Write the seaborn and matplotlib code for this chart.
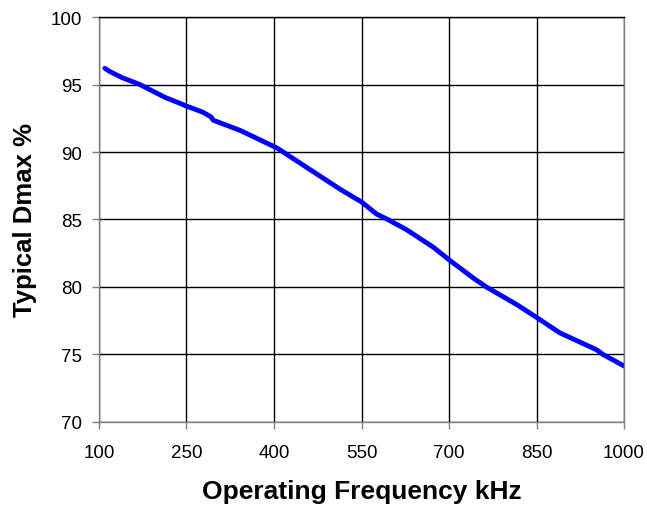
import pandas as pd
import matplotlib.pyplot as plt
import seaborn as sns

# values
freq_khz = [110, 119, 140, 170, 213, 239, 250, 278, 292, 296, 342, 405,
            467, 513, 550, 576, 595, 627, 673, 702, 742, 764, 816, 850,
            890, 953, 964, 1000]
dmax_pct = [96.2, 95.95, 95.5, 95.0, 94.05, 93.6, 93.4, 92.95, 92.6, 92.35,
            91.6, 90.3, 88.55, 87.25, 86.3, 85.4, 85.0, 84.25, 82.95, 81.95,
            80.65, 80.0, 78.7, 77.75, 76.6, 75.35, 75.0, 74.15]
x_ticks = [100, 250, 400, 550, 700, 850, 1000]
y_ticks = [70, 75, 80, 85, 90, 95, 100]

df = pd.DataFrame({'freq': freq_khz, 'dmax': dmax_pct})

sns.set_style('white')
plt.rcParams['font.family'] = ['Liberation Sans', 'DejaVu Sans']
plt.rcParams['text.color'] = 'black'
plt.rcParams['axes.labelcolor'] = 'black'

fig, ax = plt.subplots(figsize=(6.47, 5.10), dpi=100)
fig.subplots_adjust(left=0.153, right=0.9645, top=0.9647, bottom=0.1706)

sns.lineplot(data=df, x='freq', y='dmax', color='#0000ff', linewidth=3.5, ax=ax)

ax.set_xlim(100, 1000)
ax.set_ylim(70, 100)
ax.set_xticks(x_ticks)
ax.set_yticks(y_ticks)
ax.grid(True, color='black', linewidth=1)
for s in ax.spines.values():
    s.set_color('#808080')
    s.set_linewidth(1)
ax.spines['top'].set_color('black')
ax.tick_params(axis='both', direction='out', length=5, width=1, color='#808080',
               labelcolor='black', labelsize=13.5, bottom=True, left=True)
ax.tick_params(axis='y', pad=7)
ax.tick_params(axis='x', pad=11)

ax.set_xlabel('Operating Frequency kHz', fontsize=19, fontweight='bold', labelpad=13)
ax.set_ylabel('Typical Dmax %', fontsize=18.5, fontweight='bold', labelpad=10)

plt.savefig('out.png', dpi=100)
